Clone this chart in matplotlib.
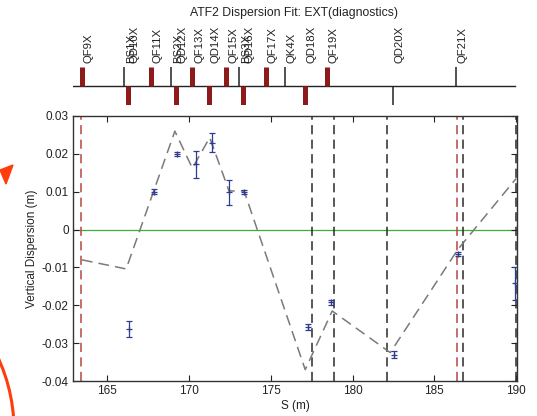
import numpy as np
import matplotlib
matplotlib.use("Agg")
import matplotlib.pyplot as plt
from matplotlib.patches import Arc, Polygon

plt.rcParams['font.family'] = ['Liberation Sans', 'DejaVu Sans']

## Beamline elements: name, S position, kind
elem_names = ["QF9X", "BS1X", "QD10X", "QF11X", "BS2X", "QD12X", "QF13X", "QD14X",
              "QF15X", "BS3X", "QD16X", "QF17X", "QK4X", "QD18X", "QF19X", "QD20X", "QF21X"]
elem_s = [163.45, 166.04, 166.27, 167.68, 168.90, 169.17, 170.20, 171.20,
          172.28, 173.06, 173.30, 174.70, 175.88, 177.07, 178.44, 182.47, 186.30]
## F = focusing quad (red, up), D = defocusing quad (red, down), U/L = other (black up/down)
elem_kind = ["F", "U", "D", "F", "U", "D", "F", "D",
             "F", "U", "D", "F", "U", "D", "F", "L", "U"]

## Fitted dispersion model
fit_s = [163.45, 166.15, 169.13, 170.20, 171.26, 172.44, 173.36, 177.10, 178.75, 182.30, 186.44, 190.0]
fit_eta = [-0.0080, -0.0104, 0.0260, 0.0162, 0.0243, 0.0102, 0.0102, -0.0370, -0.0215, -0.0325, -0.0052, 0.0135]

## Measured dispersion at the BPMs
meas_s = [166.30, 167.84, 169.27, 170.40, 171.38, 172.44, 173.36, 177.30, 178.68, 182.55, 186.44, 189.95]
meas_eta = [-0.0263, 0.0100, 0.0200, 0.0172, 0.0230, 0.0098, 0.0099, -0.0258, -0.0192, -0.0330, -0.0064, -0.0142]
meas_err = [0.0021, 0.0006, 0.0006, 0.0035, 0.0026, 0.0033, 0.0005, 0.0008, 0.0007, 0.0008, 0.0005, 0.0044]

## Diagnostic markers
red_marks = [163.40, 186.40]
black_marks = [177.50, 178.88, 182.12, 186.72, 189.97]

x_range = (162.9, 190.05)
y_range = (-0.04, 0.03)
yticks = [-0.04, -0.03, -0.02, -0.01, 0, 0.01, 0.02, 0.03]
ytick_labels = ["-0.04", "-0.03", "-0.02", "-0.01", "0", "0.01", "0.02", "0.03"]
xticks = [165, 170, 175, 180, 185, 190]

W, H = 537, 416
fig = plt.figure(figsize=(W / 100, H / 100), dpi=100)

def box(l, t, r, b):
    return [l / W, 1 - b / H, (r - l) / W, (b - t) / H]

ax = fig.add_axes(box(73, 116, 517, 381))
ax.set_xlim(*x_range)
ax.set_ylim(*y_range)

ax.axhline(0, color="#3fae3f", lw=0.9, zorder=1)
for s in red_marks:
    ax.axvline(s, color="#b5473f", lw=1.1, ls=(0, (6, 3.5)), zorder=2)
for s in black_marks:
    ax.axvline(s, color="#2a2a2a", lw=1.1, ls=(0, (6, 3.5)), zorder=2)

ax.plot(fit_s, fit_eta, color="#7a7a7a", lw=1.1, ls=(0, (7, 4)), zorder=3)
ax.errorbar(meas_s, meas_eta, yerr=meas_err, fmt="+", color="#2e3b8f", ms=5,
            mew=0.9, elinewidth=0.9, capsize=2.0, capthick=0.9, zorder=4)

ax.set_yticks(yticks)
ax.set_yticklabels(ytick_labels)
ax.set_xticks(xticks)
ax.tick_params(direction="in", length=4, width=0.8, labelsize=8.5, top=True, right=True,
               colors="#222222", pad=3)
for sp in ax.spines.values():
    sp.set_linewidth(1.0)
    sp.set_color("#333333")
ax.set_xlabel("S (m)", fontsize=8.5, color="#222222", labelpad=2)
ax.set_ylabel("Vertical Dispersion (m)", fontsize=8.5, color="#222222", labelpad=3)

## Lattice strip above the plot
lat = fig.add_axes(box(73, 66.7, 517, 105.3))
lat.set_xlim(*x_range)
lat.set_ylim(-1, 1)
lat.axis("off")
lat.plot([x_range[0], 190.0 - 0.1], [0, 0], color="#222222", lw=1.0)
for name, s, kind in zip(elem_names, elem_s, elem_kind):
    if kind == "F":
        lat.plot([s, s], [0, 1], color="#8e1b1b", lw=3.6, solid_capstyle="butt")
    elif kind == "D":
        lat.plot([s, s], [0, -1], color="#8e1b1b", lw=3.6, solid_capstyle="butt")
    elif kind == "U":
        lat.plot([s, s], [0, 1], color="#222222", lw=1.1, solid_capstyle="butt")
    else:
        lat.plot([s, s], [0, -1], color="#222222", lw=1.1, solid_capstyle="butt")
    lat.text(s + 0.1, 1.17, name, rotation=90, ha="left", va="bottom", fontsize=8.2,
             color="#222222", clip_on=False)

fig.text(0.547, 1 - 13 / H, "ATF2 Dispersion Fit: EXT(diagnostics)", ha="center",
         va="center", fontsize=8.8, color="#222222")

## Slide annotation marks in the left margin
over = fig.add_axes([0, 0, 1, 1], zorder=-1)
over.set_xlim(0, W)
over.set_ylim(H, 0)
over.axis("off")
over.add_patch(Polygon([[13, 165], [0, 170], [6, 184]], closed=True, color="#ff3c0a"))
over.add_patch(Arc((-158, 430), 344, 344, theta1=-60, theta2=60, color="#ff3c0a", lw=2.2))

fig.savefig("out.png", dpi=100)
